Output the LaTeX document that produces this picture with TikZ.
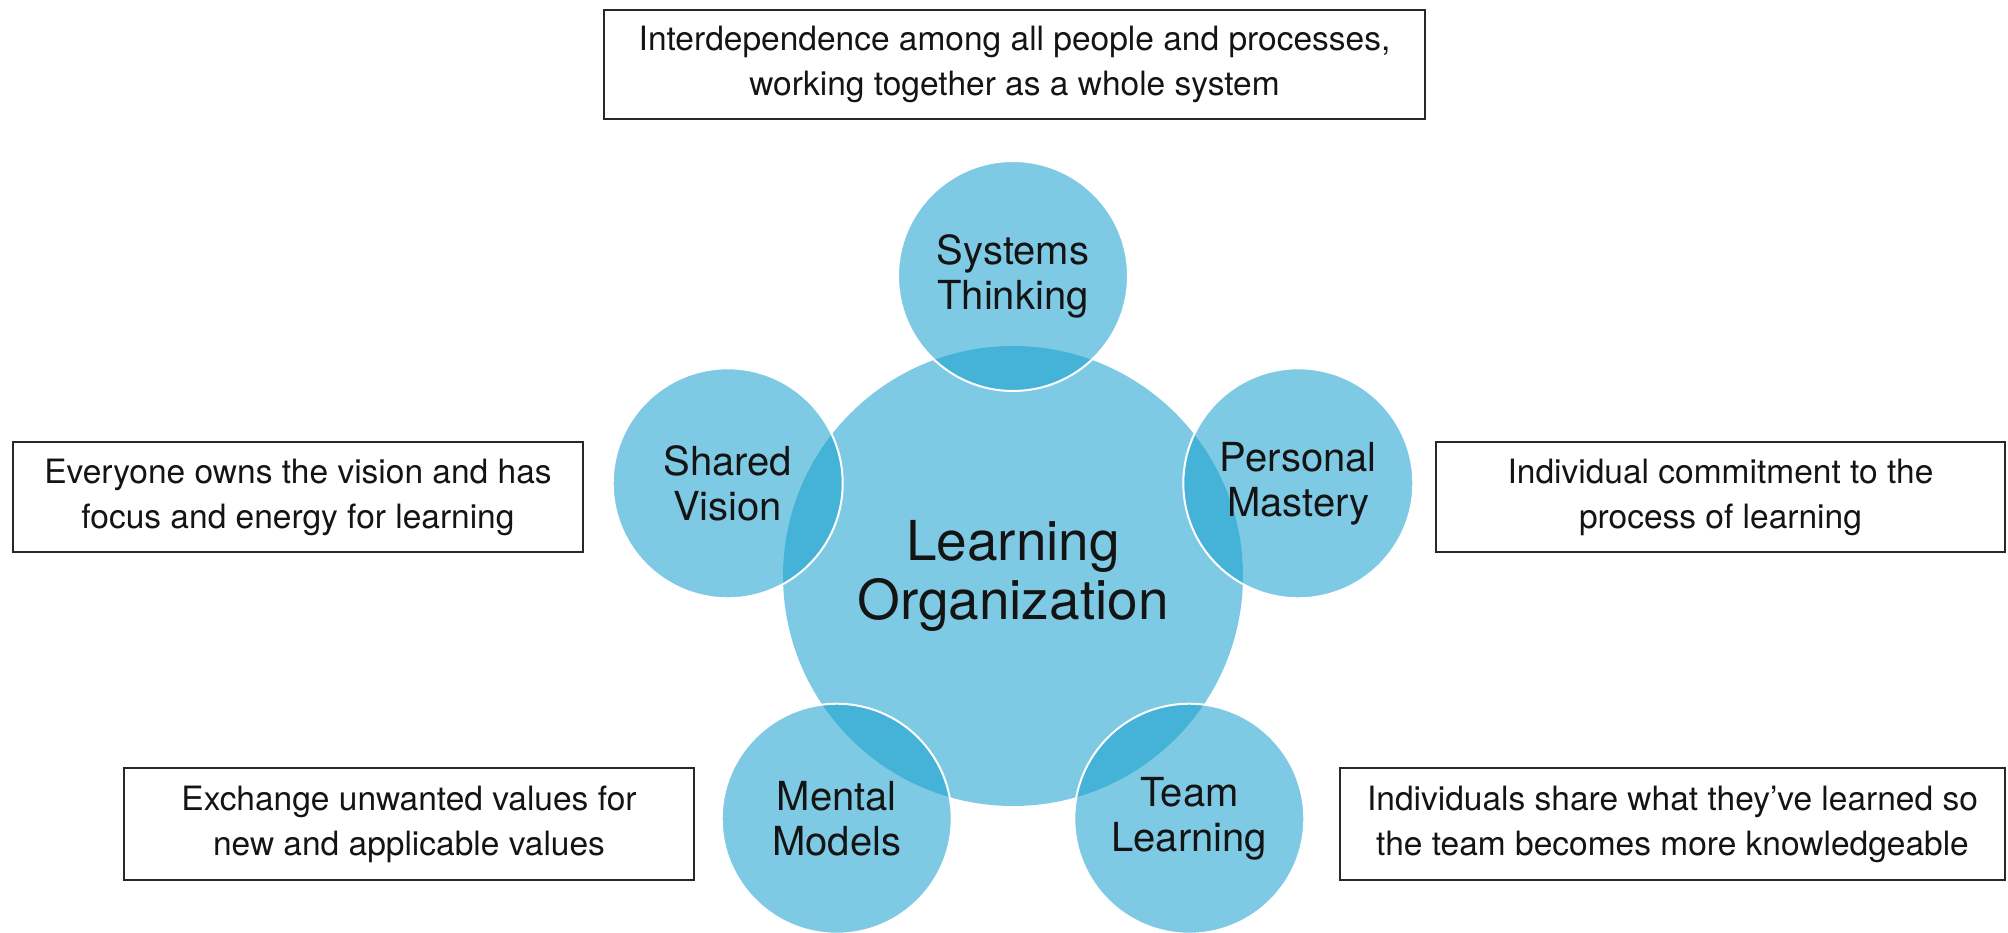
\documentclass[tikz,border=0pt]{standalone}
\usepackage{fontspec}
\setmainfont{TeX Gyre Heros}
\definecolor{discblue}{RGB}{24,160,206}
\definecolor{ink}{RGB}{20,20,20}
\definecolor{frame}{RGB}{40,40,40}
\begin{document}
\begin{tikzpicture}[x=1pt,y=-1pt,
  hub/.style={circle, fill=discblue, fill opacity=0.555, text opacity=1,
    minimum size=460pt, inner sep=0pt, align=center, text=ink,
    font=\fontsize{55}{59}\selectfont},
  petal/.style={circle, fill=discblue, fill opacity=0.555, draw=white,
    draw opacity=1, line width=2pt, text opacity=1, minimum size=230pt,
    inner sep=0pt, align=center, text=ink, font=\fontsize{40}{45}\selectfont},
  note/.style={draw=frame, line width=1.6pt, align=center, inner sep=0pt,
    text=ink, font=\fontsize{33.5}{45}\selectfont}]
\useasboundingbox (0,0) rectangle (2008,933);

% central disc
\node[hub] (lo) at (1013,576) {Learning\\Organization};

% five disciplines on a pentagon of radius 300 around the hub
\node[petal] (st) at (1013,276)     {Systems\\Thinking};
\node[petal] (sv) at (727.7,483.3)  {Shared\\Vision};
\node[petal] (pm) at (1298.3,483.3) {Personal\\Mastery};
\node[petal] (mm) at (836.7,818.7)  {Mental\\Models};
\node[petal] (tl) at (1189.3,818.7) {Team\\Learning};

% descriptions
\node[note, minimum width=821pt, minimum height=109pt] (dst) at (1014.5,64.5)
  {Interdependence among all people and processes,\\working together as a whole system};
\node[note, minimum width=570pt, minimum height=110pt] (dsv) at (298,497)
  {Everyone owns the vision and has\\focus and energy for learning};
\node[note, minimum width=569pt, minimum height=110pt] (dpm) at (1720.5,497)
  {Individual commitment to the\\process of learning};
\node[note, minimum width=570pt, minimum height=112pt] (dmm) at (409,824)
  {Exchange unwanted values for\\new and applicable values};
\node[note, minimum width=665pt, minimum height=112pt] (dtl) at (1672.5,824)
  {Individuals share what they’ve learned so\\the team becomes more knowledgeable};
\end{tikzpicture}
\end{document}
